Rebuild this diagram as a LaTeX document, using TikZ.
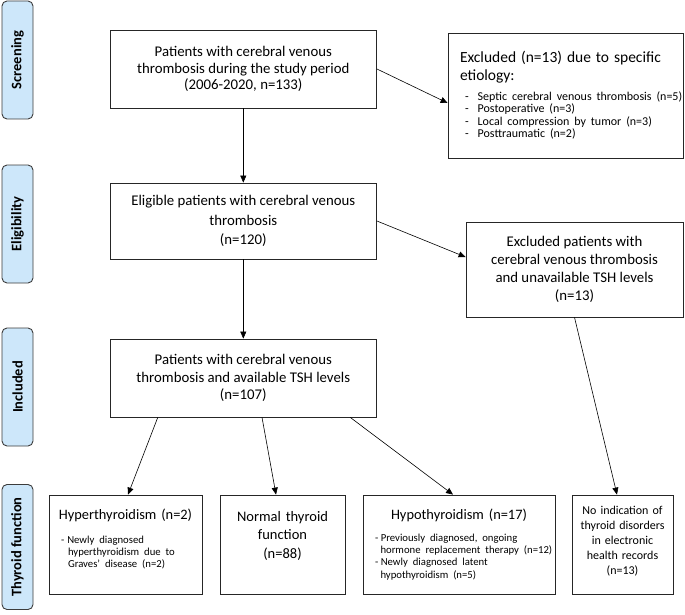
\documentclass[tikz,border=0pt]{standalone}
\usepackage{fontspec}
\setmainfont{Carlito}
\usepackage{tikz}
\usetikzlibrary{calc}
\usetikzlibrary{arrows.meta}
\usetikzlibrary{positioning}
\setlength{\parindent}{0pt}
\definecolor{stagefill}{RGB}{205,231,250}
\definecolor{stageline}{RGB}{60,60,60}
\tikzset{stage/.style={rectangle,rounded corners=5pt,draw=stageline,line width=0.9pt,fill=stagefill,rotate=90,minimum width=118pt,minimum height=31pt,inner sep=0pt,font=\fontsize{14.5}{16}\selectfont\bfseries}}
\tikzset{box/.style={rectangle,draw=black!85,line width=0.8pt,inner sep=0pt,align=center,font=\fontsize{14.8}{18}\selectfont}}
\tikzset{outbox/.style={box,minimum height=99pt}}
\tikzset{flow/.style={-{Triangle[length=7pt,width=6pt]},line width=0.6pt}}
\newcommand{\itemfont}{\fontsize{10.7}{12.3}\selectfont}
% extra room under the text, lifts it in its box
\newcommand{\lift}[1]{\par\nointerlineskip\vspace{#1}\hbox{}}

\begin{document}
\begin{tikzpicture}[x=1pt,y=-1pt]
\useasboundingbox (0,0) rectangle (685,615);
  \node[stage] (S1) at (17.5,60) {Screening};
  \node[stage] (S2) at (17.5,224) {Eligibility};
  \node[stage] (S3) at (17.5,387) {Included};
  \node[stage,minimum width=125pt] (S4) at (17.5,547) {Thyroid function};

  \node[box,minimum width=266.5pt,minimum height=78pt,font=\fontsize{14.8}{16.5}\selectfont] (P) at (243.3,69) {Patients with cerebral venous\\thrombosis during the study period\\(2006-2020, n=133)};
  \node[box,minimum width=235pt,minimum height=125pt,text width=233pt,align=left] (X) at (565.5,95.5) {%
    {\fontsize{15.5}{18}\selectfont \hspace*{11pt}Excluded (n=13) due to specific\\\hspace*{11pt}etiology:\par}\vspace{7pt}
    {\fontsize{12}{12.5}\selectfont
    \hspace*{16pt}\mbox{-\hspace{9pt}Septic cerebral venous thrombosis (n=5)}\\
    \hspace*{16pt}\mbox{-\hspace{9pt}Postoperative (n=3)}\\
    \hspace*{16pt}\mbox{-\hspace{9pt}Local compression by tumor (n=3)}\\
    \hspace*{16pt}\mbox{-\hspace{9pt}Posttraumatic (n=2)}\par}};
  \node[box,minimum width=266.5pt,minimum height=76pt,font=\fontsize{14.8}{19.5}\selectfont] (E) at (243.3,221) {Eligible patients with cerebral venous\\thrombosis\\(n=120)};
  \node[box,minimum width=217pt,minimum height=95pt] (U) at (574.5,269.5) {Excluded patients with\\cerebral venous thrombosis\\and unavailable TSH levels\\(n=13)};
  \node[box,minimum width=266.5pt,minimum height=78pt,font=\fontsize{14.8}{17.5}\selectfont] (T) at (243.3,378) {Patients with cerebral venous\\thrombosis and available TSH levels\\(n=107)};

  % thyroid function
  \node[outbox,minimum width=153pt,text width=151pt,align=left] (H) at (125.5,544.5) {%
    {\centering\fontsize{14.4}{18}\selectfont Hyperthyroidism (n=2)\par}\vspace{12pt}
    {\itemfont
    \hspace*{11pt}-\hspace{3pt}Newly diagnosed\\
    \hspace*{18pt}hyperthyroidism due to\\
    \hspace*{18pt}Graves’ disease (n=2)\lift{11pt}}};
  \node[outbox,minimum width=125pt,text width=123pt,font=\fontsize{14.5}{18.5}\selectfont] (N) at (282.5,544.5) {Normal thyroid\\function\\(n=88)\lift{18pt}};
  \node[outbox,minimum width=192pt,text width=190pt,align=left] (Y) at (459,544.5) {%
    {\centering\fontsize{14.4}{18}\selectfont Hypothyroidism (n=17)\par}\vspace{9.5pt}
    {\itemfont
    \hspace*{11pt}-\hspace{2.5pt}Previously diagnosed, ongoing\\
    \hspace*{16.5pt}hormone replacement therapy (n=12)\\
    \hspace*{11pt}-\hspace{2.5pt}Newly diagnosed latent\\
    \hspace*{16.5pt}hypothyroidism (n=5)\par}};
  \node[outbox,minimum width=101pt,text width=99pt,font=\fontsize{12}{15}\selectfont] (D) at (622.5,544.5) {No indication of\\thyroid disorders\\in electronic\\health records\\(n=13)\lift{6pt}};

  \draw[flow] (P) -- (E);
  \draw[flow] (P.east) -- ([yshift=-7.5pt]X.west);
  \draw[flow] (E) -- (T);
  \draw[flow] (E.east) -- ($(U.north west)!0.37!(U.south west)$);
  \draw[flow] ($(T.south west)!0.18!(T.south east)$) -- ([xshift=2.5pt]H.north);
  \draw[flow] ($(T.south west)!0.57!(T.south east)$) -- ([xshift=-6.5pt]N.north);
  \draw[flow] ($(T.south west)!0.90!(T.south east)$) -- ([xshift=-6pt]Y.north);
  \draw[flow] (U.south) -- ([xshift=-5.5pt]D.north);
\end{tikzpicture}
\end{document}
